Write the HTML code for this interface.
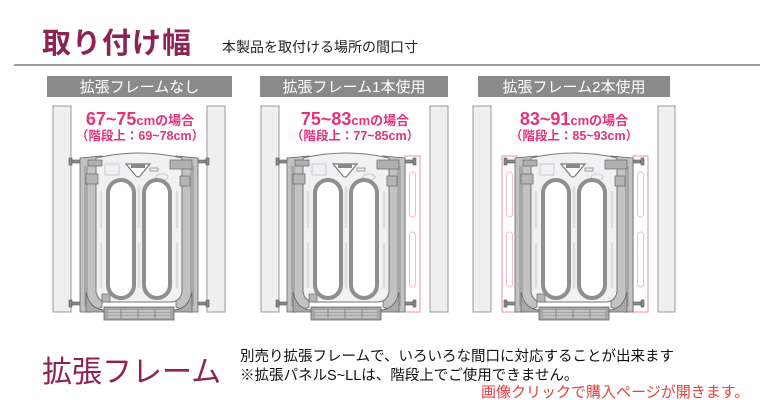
<!DOCTYPE html>
<html><head><meta charset="utf-8"><style>
html,body{margin:0;padding:0;background:#fff;}
svg{display:block}
text{font-family:"Liberation Sans","Noto Sans CJK JP",sans-serif;}
</style></head><body>
<svg width="760" height="400" viewBox="0 0 760 400" xmlns="http://www.w3.org/2000/svg">
<defs>
<g id="gate">
  <g fill="#8a8a8a" stroke="#555" stroke-width="0.6">
    <rect x="-10" y="8" width="12" height="3"/><rect x="-11" y="6" width="3" height="7"/>
    <rect x="-10" y="150" width="12" height="3"/><rect x="-11" y="148" width="3" height="7"/>
  </g>
  <g fill="#8a8a8a" stroke="#555" stroke-width="0.6">
    <rect x="115" y="8" width="12" height="3"/><rect x="126" y="6" width="3" height="7"/>
    <rect x="115" y="150" width="12" height="3"/><rect x="126" y="148" width="3" height="7"/>
  </g>
  <path d="M0 6 L22 4 L22 155 L10 160 L0 160 Z" fill="#c2c2c2" stroke="#666" stroke-width="0.8"/>
  <path d="M118 6 L96 4 L96 155 L108 160 L118 160 Z" fill="#c2c2c2" stroke="#666" stroke-width="0.8"/>
  <rect x="4" y="14" width="4" height="140" fill="#a8a8a8"/>
  <rect x="110" y="14" width="4" height="140" fill="#a8a8a8"/>
  <path d="M6 140 Q10 160 30 158 L88 158 Q108 160 112 140 L112 160 L6 160 Z" fill="#aaa" stroke="#666" stroke-width="0.8"/>
  <path d="M16 6 Q59 -4 102 6 L102 140 Q100 150 90 150 L28 150 Q18 150 16 140 Z" fill="#f1f1f3" stroke="#777" stroke-width="1"/>
  <path d="M46 12 L70 12 L60 24 Q58 26 56 24 Z" fill="#fff" stroke="#777" stroke-width="1.2"/>
  <rect x="51" y="12" width="14" height="4" fill="#888"/>
  <rect x="25" y="12" width="14" height="11" fill="none" stroke="#ccc" stroke-width="1"/>
  <rect x="70" y="16" width="8" height="3" fill="none" stroke="#888" stroke-width="0.8"/>
  <ellipse cx="82" cy="25" rx="6" ry="3" fill="none" stroke="#ccc"/>
  <rect x="6" y="22" width="12" height="10" fill="#b5b5b5" stroke="#666" stroke-width="0.7"/>
  <rect x="100" y="24" width="10" height="10" fill="#b5b5b5" stroke="#666" stroke-width="0.7"/>
  <rect x="90" y="8" width="22" height="9" fill="#b0b0b0" stroke="#666" stroke-width="0.7"/>
  <rect x="8" y="8" width="14" height="6" fill="#b0b0b0" stroke="#666" stroke-width="0.7"/>
  <rect x="22" y="142" width="8" height="8" fill="#b5b5b5" stroke="#666" stroke-width="0.7"/>
  <rect x="28" y="28" width="26" height="118" rx="13" fill="#fff" stroke="#8f8f8f" stroke-width="4"/>
  <rect x="64" y="28" width="26" height="118" rx="13" fill="#fff" stroke="#8f8f8f" stroke-width="4"/>
  <g fill="none" stroke="#ddd" stroke-width="2.5" stroke-linecap="round">
    <line x1="21" y1="40" x2="21" y2="75"/><line x1="21" y1="92" x2="21" y2="135"/>
    <line x1="59" y1="35" x2="59" y2="75"/><line x1="59" y1="92" x2="59" y2="135"/>
    <line x1="97" y1="40" x2="97" y2="75"/><line x1="97" y1="92" x2="97" y2="135"/>
  </g>
  <rect x="24" y="155" width="70" height="13" fill="#a6a6a6" stroke="#666" stroke-width="0.8"/>
  <g stroke="#ddd" stroke-width="1"><line x1="28" y1="159" x2="90" y2="159"/><line x1="28" y1="162" x2="90" y2="162"/><line x1="28" y1="165" x2="90" y2="165"/></g>
  <g stroke="#888" stroke-width="1"><line x1="41" y1="157" x2="41" y2="167"/><line x1="58" y1="157" x2="58" y2="167"/><line x1="75" y1="157" x2="75" y2="167"/></g>
</g>
<g id="pink">
  <rect x="0" y="4" width="15" height="156" fill="#fff" stroke="#e9a2bf" stroke-width="1.2"/>
  <g fill="none" stroke="#f0bcd0" stroke-width="1">
    <rect x="4.5" y="20" width="6" height="45" rx="3"/><rect x="4.5" y="80" width="6" height="55" rx="3"/>
  </g>
</g>
</defs>

<text x="42" y="53" font-size="29" fill="#8c2353" font-weight="bold" letter-spacing="1">取り付け幅</text>
<text x="222" y="52" font-size="14" fill="#222">本製品を取付ける場所の間口寸</text>
<rect x="14" y="64" width="746" height="2" fill="#9a9a9a"/>

<rect x="47" y="76" width="185" height="21" fill="#8a8a8a"/>
<text x="139.5" y="92" font-size="15" fill="#fff" text-anchor="middle">拡張フレームなし</text>
<rect x="260" y="76" width="188" height="21" fill="#8a8a8a"/>
<text x="354" y="92" font-size="15" fill="#fff" text-anchor="middle">拡張フレーム1本使用</text>
<rect x="478" y="76" width="192" height="21" fill="#8a8a8a"/>
<text x="574" y="92" font-size="15" fill="#fff" text-anchor="middle">拡張フレーム2本使用</text>

<g fill="#efeff0" stroke="#999" stroke-width="1">
  <rect x="53" y="106" width="18" height="206"/><rect x="207" y="106" width="18" height="206"/>
  <rect x="261" y="106" width="18" height="206"/><rect x="430" y="106" width="18" height="206"/>
  <rect x="473" y="106" width="18" height="206"/><rect x="658" y="106" width="17" height="206"/>
</g>

<g fill="#e2337b" font-weight="bold" text-anchor="middle">
  <text x="140" y="125" font-size="18">67~75<tspan font-size="13">cmの場合</tspan></text>
  <text x="140" y="140" font-size="12.5">（階段上：69~78cm）</text>
  <text x="355" y="125" font-size="18">75~83<tspan font-size="13">cmの場合</tspan></text>
  <text x="355" y="140" font-size="12.5">（階段上：77~85cm）</text>
  <text x="574" y="125" font-size="18">83~91<tspan font-size="13">cmの場合</tspan></text>
  <text x="574" y="140" font-size="12.5">（階段上：85~93cm）</text>
</g>

<use href="#gate" x="80" y="152"/>
<use href="#pink" x="405" y="152"/>
<use href="#gate" x="287" y="152"/>
<use href="#pink" x="502" y="152"/>
<use href="#pink" x="633" y="152"/>
<use href="#gate" x="515" y="152"/>

<text x="42" y="382" font-size="30" fill="#8c2353">拡張フレーム</text>
<text x="240" y="361" font-size="14.5" fill="#111">別売り拡張フレームで、いろいろな間口に対応することが出来ます</text>
<text x="240" y="380" font-size="14.5" fill="#111">※拡張パネルS~LLは、階段上でご使用できません。</text>
<text x="481" y="397" font-size="15" fill="#e8403f">画像クリックで購入ページが開きます。</text>
</svg>
</body></html>
